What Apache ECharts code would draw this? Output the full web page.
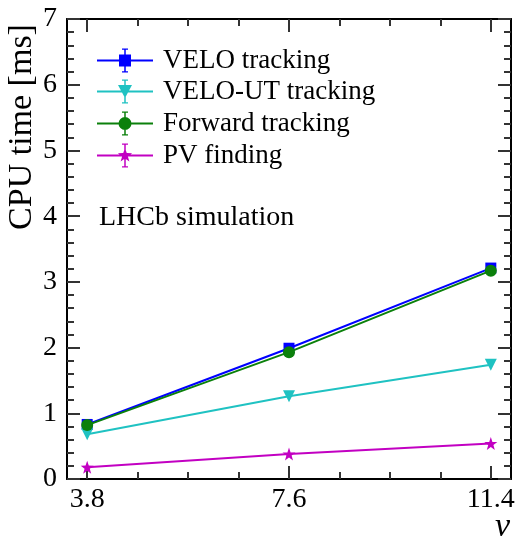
<!DOCTYPE html>
<html>
<head>
<meta charset="utf-8">
<script src="https://cdn.jsdelivr.net/npm/echarts@6/dist/echarts.min.js"></script>
<style>
html,body{margin:0;padding:0;background:#fff;}
#chart{width:521px;height:544px;}
</style>
</head>
<body>
<div id="chart"></div>
<script>
// ---- data ----
const nu = [3.8, 7.6, 11.4];
const seriesNames = ['VELO tracking', 'VELO-UT tracking', 'Forward tracking', 'PV finding'];
const veloTracking = [0.83, 1.99, 3.21];
const veloUTTracking = [0.68, 1.26, 1.74];
const forwardTracking = [0.82, 1.93, 3.17];
const pvFinding = [0.18, 0.38, 0.54];
const xMajorTicks = [3.8, 7.6, 11.4];
const xMinorTicks = [4.75, 5.7, 6.65, 8.55, 9.5, 10.45];
const yAxisName = 'CPU time [ms]';
const xAxisName = 'ν';
const annotation = 'LHCb simulation';

// ---- style ----
const FONT = "'Liberation Serif', 'DejaVu Serif', serif";
const colors = ['#0000ff', '#1fc2c2', '#0b800b', '#c200c2'];

function starPath(cx, cy, R, r) {
  let s = '';
  for (let k = 0; k < 10; k++) {
    const a = (-90 + 36 * k) * Math.PI / 180;
    const rad = k % 2 ? r : R;
    const x = (cx + rad * Math.cos(a)).toFixed(3);
    const y = (cy + rad * Math.sin(a)).toFixed(3);
    s += (k === 0 ? 'M' : 'L') + x + ' ' + y + ' ';
  }
  return s + 'Z';
}
const starSymbol = 'path://' + starPath(0, 0, 10, 4);

const legendBase = 'path://M0 11H56V13H0Z M27.25 0H28.75V24H27.25Z M25 0H31V1.3H25Z M25 22.7H31V24H25Z ';
const legendMarkers = [
  'M22 6H34V18H22Z',
  'M21 5.5H35L28 18.5Z',
  'M21.5 12A6.5 6.5 0 1 1 34.5 12A6.5 6.5 0 1 1 21.5 12Z',
  starPath(28, 12, 7.5, 3)
];
const seriesValues = [veloTracking, veloUTTracking, forwardTracking, pvFinding];
const symbols = ['rect', 'triangle', 'circle', starSymbol];
const symbolSizes = [11, 12, 12, 13];
const symbolRotates = [0, 180, 0, 0];
const legendTops = [42, 73, 105, 137];

const xCommon = { type: 'value', min: 3.42, max: 11.78, splitLine: { show: false } };
const tickStyle = { color: '#333', width: 2 };
const axisLineStyle = { show: true, lineStyle: { color: '#000', width: 2 } };

const option = {
  animation: false,
  backgroundColor: '#fff',
  grid: { left: 67, right: 10, top: 19, bottom: 65, containLabel: false },
  xAxis: [
    Object.assign({}, xCommon, {
      position: 'bottom',
      axisLine: axisLineStyle,
      axisTick: { show: true, inside: true, length: 13, lineStyle: tickStyle, customValues: xMajorTicks },
      axisLabel: { show: true, customValues: xMajorTicks, fontSize: 28, fontFamily: FONT, color: '#000', margin: 7,
                   formatter: v => v.toFixed(1) }
    }),
    Object.assign({}, xCommon, {
      position: 'bottom',
      axisLine: { show: false },
      axisTick: { show: true, inside: true, length: 7, lineStyle: tickStyle, customValues: xMinorTicks },
      axisLabel: { show: false }
    }),
    Object.assign({}, xCommon, {
      position: 'top',
      axisLine: axisLineStyle,
      axisTick: { show: true, inside: true, length: 13, lineStyle: tickStyle, customValues: xMajorTicks },
      axisLabel: { show: false }
    }),
    Object.assign({}, xCommon, {
      position: 'top',
      axisLine: { show: false },
      axisTick: { show: true, inside: true, length: 7, lineStyle: tickStyle, customValues: xMinorTicks },
      axisLabel: { show: false }
    })
  ],
  yAxis: [
    {
      type: 'value', position: 'left', min: 0, max: 7, interval: 1,
      axisLine: axisLineStyle,
      axisTick: { show: true, inside: true, length: 13, lineStyle: tickStyle },
      minorTick: { show: true, splitNumber: 5, length: 7, lineStyle: tickStyle },
      axisLabel: { fontSize: 28, fontFamily: FONT, color: '#000', margin: 10 },
      splitLine: { show: false }, minorSplitLine: { show: false }
    },
    {
      type: 'value', position: 'right', min: 0, max: 7, interval: 1,
      axisLine: axisLineStyle,
      axisTick: { show: true, inside: true, length: 13, lineStyle: tickStyle },
      minorTick: { show: true, splitNumber: 5, length: 7, lineStyle: tickStyle },
      axisLabel: { show: false },
      splitLine: { show: false }, minorSplitLine: { show: false }
    }
  ],
  legend: seriesNames.map((name, i) => ({
    data: [{ name: name, icon: legendBase + legendMarkers[i] }],
    left: 92, top: legendTops[i],
    itemWidth: 56, itemHeight: 24,
    itemStyle: { borderWidth: 0 },
    textStyle: { fontSize: 27, fontFamily: FONT, color: '#000', padding: [0, 0, 0, 5] },
    selectedMode: false
  })),
  series: seriesNames.map((name, i) => ({
    name: name,
    type: 'line',
    xAxisIndex: 0, yAxisIndex: 0,
    data: nu.map((x, j) => [x, seriesValues[i][j]]),
    symbol: symbols[i],
    symbolSize: symbolSizes[i],
    symbolRotate: symbolRotates[i],
    showSymbol: true,
    color: colors[i],
    lineStyle: { color: colors[i], width: 2 },
    itemStyle: { color: colors[i], borderWidth: 0 },
    emphasis: { disabled: true },
    z: 2 + i
  })),
  graphic: [
    { type: 'text', x: 22, y: 127, rotation: Math.PI / 2,
      style: { text: yAxisName, font: "34px " + FONT, fill: '#000', align: 'center', verticalAlign: 'middle' } },
    { type: 'text', x: 510, y: 527,
      style: { text: xAxisName, font: "italic 34px " + FONT, fill: '#000', align: 'right', verticalAlign: 'middle' } },
    { type: 'text', x: 99, y: 218,
      style: { text: annotation, font: "28px " + FONT, fill: '#000', align: 'left', verticalAlign: 'middle' } }
  ]
};

const chart = echarts.init(document.getElementById('chart'), null, { renderer: 'canvas' });
chart.setOption(option);
</script>
</body>
</html>
